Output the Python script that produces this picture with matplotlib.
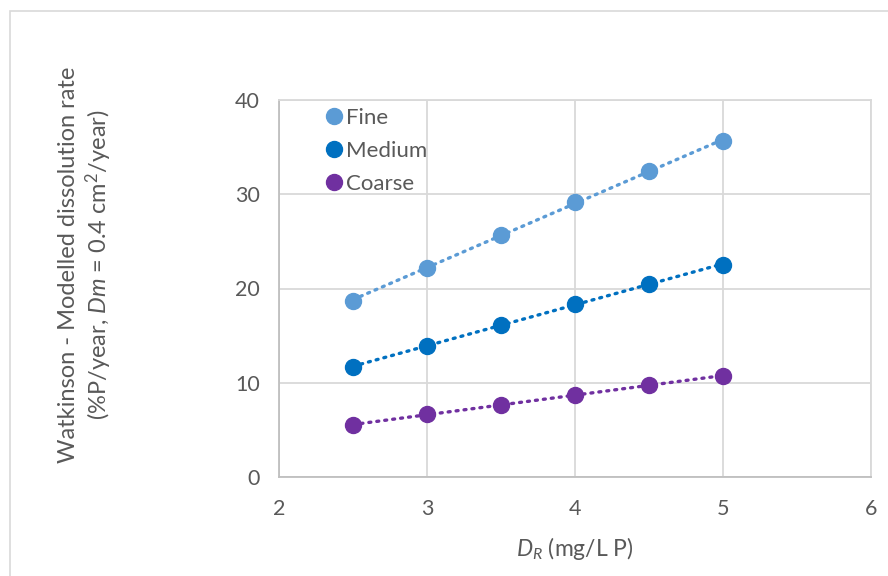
import matplotlib
matplotlib.use("Agg")
import matplotlib.pyplot as plt
import numpy as np
from matplotlib.patches import Rectangle

plt.rcParams['font.family'] = ['Lato', 'DejaVu Sans']
plt.rcParams['mathtext.fontset'] = 'custom'
plt.rcParams['mathtext.it'] = 'Lato:italic'
plt.rcParams['mathtext.rm'] = 'Lato'

x_vals = [2.5, 3.0, 3.5, 4.0, 4.5, 5.0]
fine = [18.7, 22.2, 25.7, 29.2, 32.5, 35.6]
medium = [11.7, 13.9, 16.1, 18.4, 20.5, 22.5]
coarse = [5.5, 6.7, 7.6, 8.7, 9.8, 10.7]
series_names = ["Fine", "Medium", "Coarse"]
colors = ["#5B9BD5", "#0070C0", "#7030A0"]
x_ticks = [2, 3, 4, 5, 6]
y_ticks = [0, 10, 20, 30, 40]

text_col = "#595959"
grid_col = "#D9D9D9"

fig = plt.figure(figsize=(8.88, 5.76), dpi=100)
W, H = 888, 576
ax = fig.add_axes([279 / W, 1 - 477 / H, (871 - 279) / W, (477 - 100) / H])

fig.patches.append(Rectangle((10 / W, -0.1), 1.2, (1 - 11 / H) + 0.1, transform=fig.transFigure,
                             fill=False, edgecolor=grid_col, linewidth=1.2))

xs = np.array(x_vals)
for name, vals, c in zip(series_names, [fine, medium, coarse], colors):
    ax.plot(xs, vals, 'o', color=c, markersize=11.5, label=name, zorder=3)
    k, b = np.polyfit(xs, vals, 1)
    ax.plot(xs, k * xs + b, linestyle=(0, (0.6, 1.8)), color=c, linewidth=2.4,
            dash_capstyle='round', zorder=2)

ax.set_xlim(2, 6)
ax.set_ylim(0, 40)
ax.set_xticks(x_ticks)
ax.set_yticks(y_ticks)
ax.grid(True, color=grid_col, linewidth=1.3)
ax.set_axisbelow(True)
for s in ax.spines.values():
    s.set_color(grid_col)
    s.set_linewidth(1.3)
ax.spines['left'].set_color("#BFBFBF")
ax.spines['bottom'].set_color("#BFBFBF")
ax.tick_params(axis='x', length=0, labelsize=15.5, colors=text_col, pad=16)
ax.tick_params(axis='y', length=0, labelsize=15.5, colors=text_col, pad=14)

fig.text(575 / W, 1 - 548 / H, r"$D_R$ (mg/L P)", fontsize=16.5, color=text_col,
         ha='center', va='center')
fig.text(86 / W, 1 - 265 / H,
         "Watkinson - Modelled dissolution rate\n(%P/year, $\\mathit{Dm}$ = 0.4 cm$^2$/year)",
         fontsize=17, color=text_col, rotation=90, ha='center', va='center',
         linespacing=1.15, multialignment='center')

leg = ax.legend(loc='upper left', bbox_to_anchor=(0.04, 1.033), frameon=False,
                fontsize=16, handletextpad=0.05, labelspacing=0.6, handlelength=1.0,
                markerscale=1.0)
for t in leg.get_texts():
    t.set_color(text_col)

fig.savefig("out.png", dpi=100)
